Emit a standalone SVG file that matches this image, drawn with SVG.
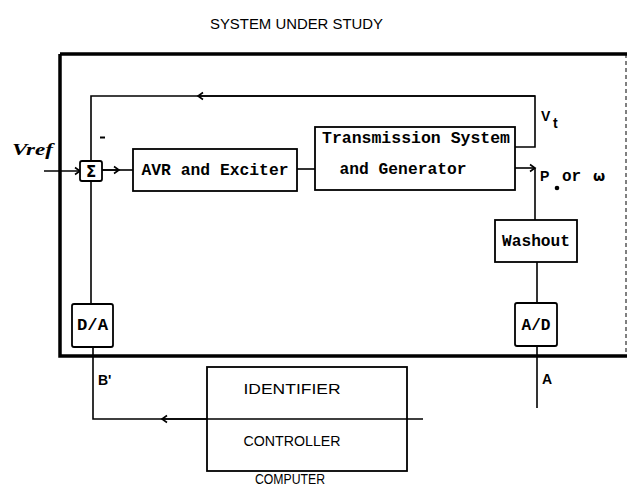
<svg xmlns="http://www.w3.org/2000/svg" width="627" height="486" viewBox="0 0 627 486">
<defs>
<marker id="arr" markerWidth="10" markerHeight="10" refX="7" refY="5" orient="auto" markerUnits="userSpaceOnUse">
<path d="M2,1.5 L7,5 L2,8.5" fill="none" stroke="#000" stroke-width="1.6"/>
</marker>
<style>
.box{fill:#fff;stroke:#000;stroke-width:1.8}
.ln{fill:none;stroke:#000;stroke-width:1.6}
.thick{fill:none;stroke:#000;stroke-width:3.5}
.mono{font-family:"Liberation Mono","DejaVu Sans Mono",monospace;font-weight:bold;font-size:16px;fill:#000}
.sans{font-family:"Liberation Sans","DejaVu Sans",sans-serif;font-size:14px;fill:#000}
.lbl{font-family:"Liberation Sans","DejaVu Sans",sans-serif;font-weight:bold;font-size:14px;fill:#000}
</style>
</defs>
<rect width="627" height="486" fill="#fff"/>
<text class="sans" x="210" y="29" font-size="14.5" textLength="173" lengthAdjust="spacingAndGlyphs">SYSTEM UNDER STUDY</text>
<g id="system-boundary">
<path class="thick" d="M60,54 H627 M60,54 V356 H627"/>
<path d="M626,54 V356" fill="none" stroke="#000" stroke-width="1" stroke-dasharray="4,3"/>
</g>
<g id="connectors">
<path class="ln" d="M515,147 H535 V96 H91 V161" />
<path class="ln" d="M535,96 H198" marker-end="url(#arr)"/>
<path class="ln" d="M44,171 H80" marker-end="url(#arr)"/>
<path class="ln" d="M102,170 H133" />
<path class="ln" d="M102,170 H119" marker-end="url(#arr)"/>
<path class="ln" d="M297,169 H315"/>
<path class="ln" d="M515,168 H535" marker-end="url(#arr)"/>
<path class="ln" d="M535,168 V220"/>
<path class="ln" d="M537,262 V303"/>
<path class="ln" d="M537,346 V408"/>
<path class="ln" d="M91,181 V304"/>
<path class="ln" d="M93,347 V419 H423"/>
<path class="ln" d="M207,419 H162" marker-end="url(#arr)"/>
</g>
<g id="vref">
<text x="12" y="155" font-family="'Liberation Serif','DejaVu Serif',serif" font-weight="bold" font-style="italic" font-size="16" textLength="41" lengthAdjust="spacingAndGlyphs">Vref</text>
</g>
<g id="minus"><path d="M100,137.5 H105" stroke="#000" stroke-width="2"/></g>
<g id="sum">
<rect class="box" x="80" y="161" width="22" height="20" rx="2"/>
<text x="91" y="177" text-anchor="middle" font-family="'DejaVu Sans',sans-serif" font-weight="bold" font-size="15">Σ</text>
</g>
<g id="avr">
<rect class="box" x="133" y="149" width="164" height="42"/>
<text class="mono" x="215" y="175" text-anchor="middle" textLength="147" lengthAdjust="spacingAndGlyphs">AVR and Exciter</text>
</g>
<g id="transmission">
<rect class="box" x="315" y="127" width="200" height="63"/>
<text class="mono" x="416" y="143" text-anchor="middle" textLength="188" lengthAdjust="spacingAndGlyphs">Transmission System</text>
<text class="mono" x="403" y="174" text-anchor="middle" textLength="127" lengthAdjust="spacingAndGlyphs">and Generator</text>
</g>
<g id="vt-label">
<text class="lbl" x="541" y="121" font-size="15">V</text>
<text class="lbl" x="553" y="128" font-size="10">t</text>
</g>
<g id="pe-label">
<text class="lbl" x="540" y="181" font-size="15">P</text>
<circle cx="557" cy="188" r="2.3" fill="#000"/>
<text class="mono" x="562" y="181" font-size="15">or</text>
<text x="593" y="181" font-family="'DejaVu Sans',sans-serif" font-weight="bold" font-size="14">ω</text>
</g>
<g id="washout">
<rect class="box" x="495" y="220" width="82" height="42"/>
<text class="mono" x="536" y="246" text-anchor="middle" font-size="15" textLength="68" lengthAdjust="spacingAndGlyphs">Washout</text>
</g>
<g id="ad">
<rect class="box" x="515" y="303" width="42" height="43" rx="2"/>
<text class="mono" x="536" y="330" text-anchor="middle" font-size="15" textLength="29" lengthAdjust="spacingAndGlyphs">A/D</text>
</g>
<g id="da">
<rect class="box" x="72" y="304" width="41" height="43" rx="2"/>
<text class="mono" x="92.5" y="330" text-anchor="middle" font-size="15" textLength="31" lengthAdjust="spacingAndGlyphs">D/A</text>
</g>
<g id="label-a"><text class="lbl" x="542" y="384" font-size="13">A</text></g>
<g id="label-b"><text class="lbl" x="98" y="385" font-size="14">B'</text></g>
<g id="computer">
<rect class="box" x="207" y="367" width="200" height="104" style="fill:none"/>
<text class="sans" x="292" y="394" text-anchor="middle" font-size="16" textLength="97" lengthAdjust="spacingAndGlyphs">IDENTIFIER</text>
<text class="sans" x="292" y="446" text-anchor="middle" font-size="16" textLength="97" lengthAdjust="spacingAndGlyphs">CONTROLLER</text>
<text class="sans" x="290" y="484" text-anchor="middle" font-size="14" textLength="70" lengthAdjust="spacingAndGlyphs">COMPUTER</text>
</g>
</svg>
